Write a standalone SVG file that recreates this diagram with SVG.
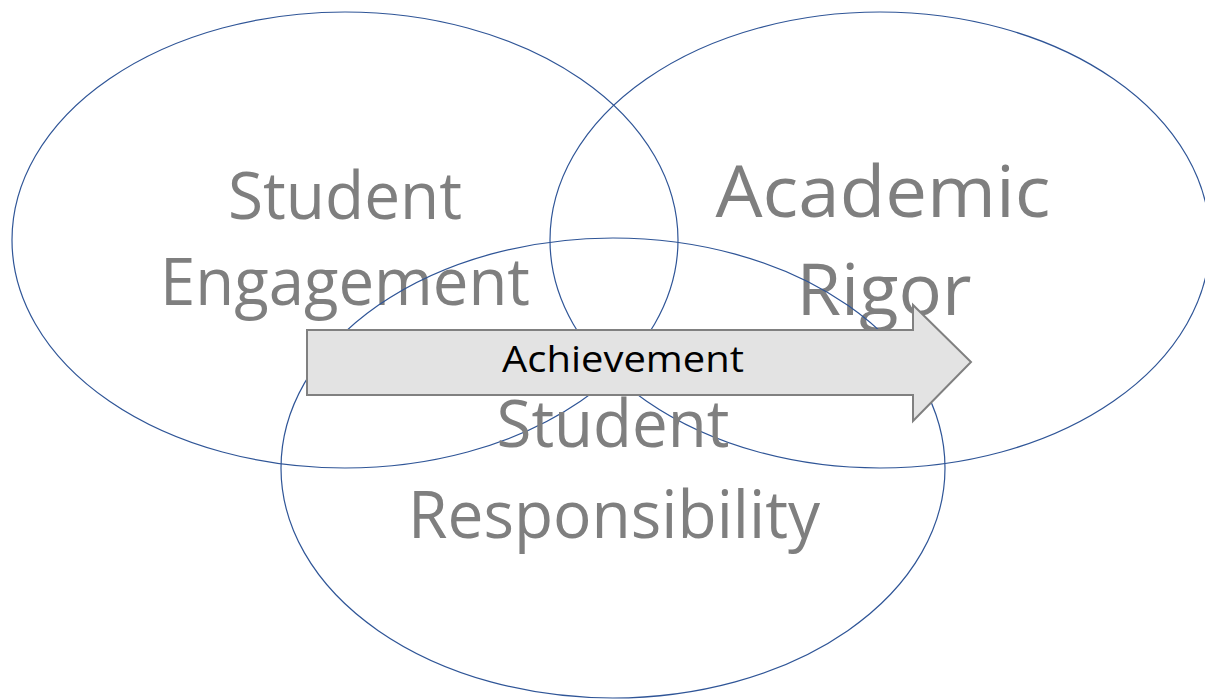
<svg xmlns="http://www.w3.org/2000/svg" width="1205" height="700" viewBox="0 0 1205 700">
<style>
.lbl{font-family:"Open Sans","Liberation Sans",sans-serif;font-size:66px;fill:#7f7f7f;text-anchor:middle}
.ring{fill:none;stroke:#2f5597;stroke-width:1.2}
.arrow{fill:#e3e3e3;stroke:#808080;stroke-width:2}
.alb{font-family:"Open Sans","Liberation Sans",sans-serif;font-size:36px;fill:#000;text-anchor:middle}
</style>
<rect width="1205" height="700" fill="#fff"/>
<g id="engagement">
<text class="lbl" x="345" y="219" textLength="234" lengthAdjust="spacingAndGlyphs">Student</text>
<text class="lbl" x="345" y="305" textLength="370" lengthAdjust="spacingAndGlyphs">Engagement</text>
<ellipse class="ring" cx="345" cy="240" rx="333" ry="228"/>
</g>
<g id="rigor">
<text class="lbl" x="883" y="217" textLength="335" lengthAdjust="spacingAndGlyphs" style="font-size:72px">Academic</text>
<text class="lbl" x="884" y="315" textLength="175" lengthAdjust="spacingAndGlyphs" style="font-size:72px">Rigor</text>
<ellipse class="ring" cx="880" cy="240" rx="330" ry="228"/>
</g>
<g id="responsibility">
<text class="lbl" x="613" y="447" textLength="233" lengthAdjust="spacingAndGlyphs">Student</text>
<text class="lbl" x="614" y="538" textLength="412" lengthAdjust="spacingAndGlyphs">Responsibility</text>
<ellipse class="ring" cx="613" cy="468" rx="332" ry="230"/>
</g>
<g id="connectors">
<g id="achievement">
<polygon class="arrow" points="307,330 913,330 913,305 971,362 913,421 913,395 307,395"/>
<text class="alb" x="623" y="372" textLength="242" lengthAdjust="spacingAndGlyphs">Achievement</text>
</g>
</g>
</svg>
